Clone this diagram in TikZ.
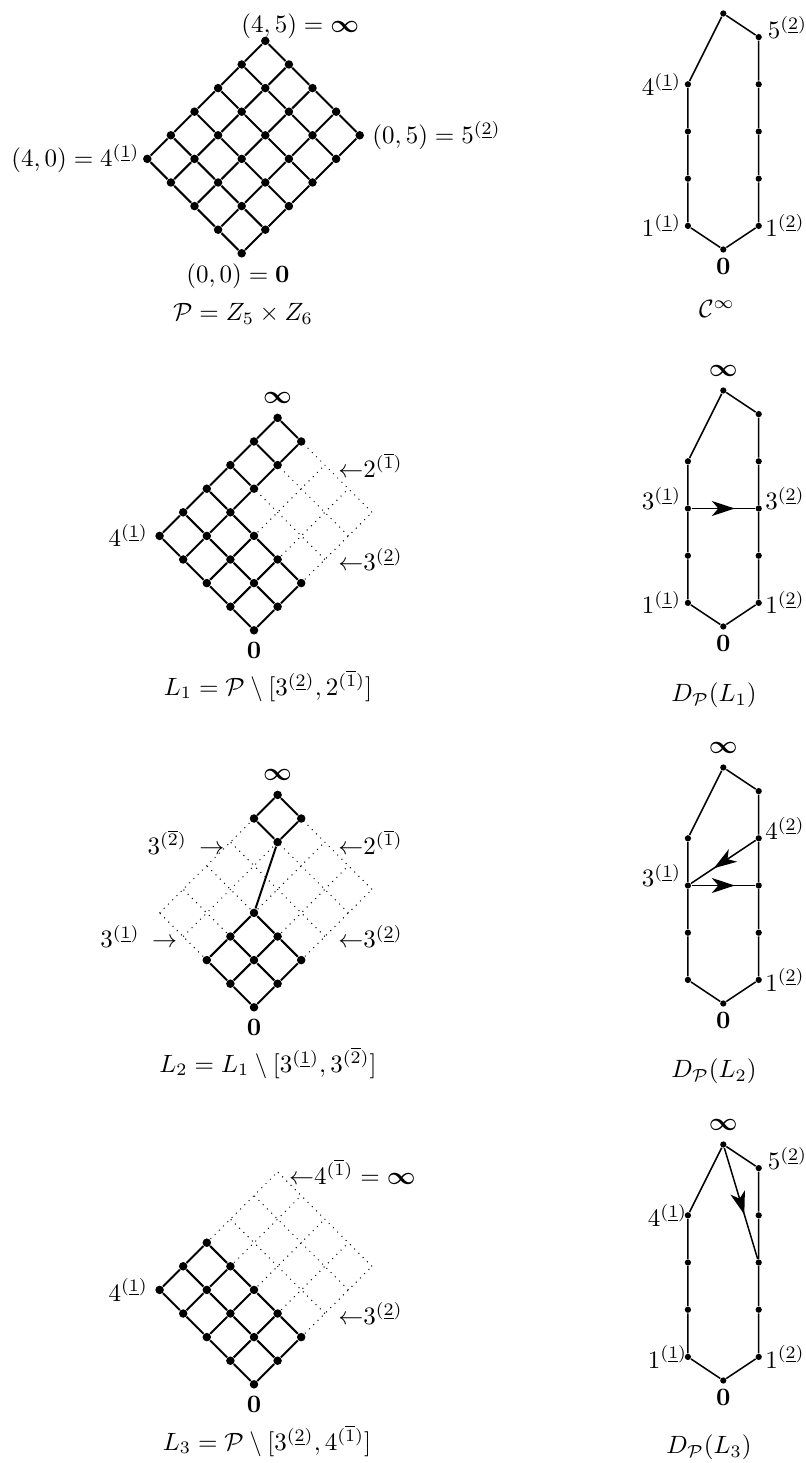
\documentclass[tikz,border=0pt]{standalone}
\usepackage{amsmath, amssymb}
\usepackage{tikz}
\usetikzlibrary{positioning, arrows.meta, decorations.markings}

\tikzset{
  ldot/.style={circle, fill, inner sep=0pt, minimum size=3.4pt},
  cdot/.style={circle, fill, inner sep=0pt, minimum size=2.5pt},
  ledge/.style={line width=0.8pt},
  cedge/.style={line width=0.6pt},
  ghost/.style={dotted, line width=0.4pt},
  lbl/.style={inner sep=1pt},
  subcap/.style={inner sep=1pt},
  midarrow/.style={postaction={decorate},
    decoration={markings, mark=at position .5 with {\arrow[xshift=4.6pt]{Stealth[length=9.2pt, width=6pt, inset=2.6pt]}}}},
  declare function={inL(\pc,\pa,\pb) = (\pc==0) || ((\pc==1) && ((\pb<3) || (\pa>2)))
    || ((\pc==2) && (((\pa<3) && (\pb<3)) || ((\pa>2) && (\pb>3)))) || ((\pc==3) && (\pb<3));}
}

\begin{document}
\begin{tikzpicture}[x=0.4pt, y=-0.4pt]
  \useasboundingbox (0,0) rectangle (805,1463);

  \foreach \k/\nm/\bx in {0/P/241.7, 1/A/254, 2/B/254, 3/C/254} {
    \begin{scope}[shift={(\bx,253.3+377*\k)}, x={(-9.44pt,9.44pt)}, y={(9.44pt,9.44pt)}]
      \foreach \i in {0,...,4} \foreach \j in {0,...,5} \coordinate (\nm g\i\j) at (\i,\j);
      \ifnum\k>0
        \foreach \i in {0,...,4} \draw[ghost] (\nm g\i0) -- (\nm g\i5);
        \foreach \j in {0,...,5} \draw[ghost] (\nm g0\j) -- (\nm g4\j);
      \fi
      \foreach \i in {0,...,4} \foreach \j in {0,...,5} {
        \pgfmathtruncatemacro\here{inL(\k,\i,\j)}
        \ifnum\here=1 \node[ldot] (\nm\i\j) at (\nm g\i\j) {}; \fi
      }
      \foreach \i in {0,...,4} \foreach \j in {0,...,5} {
        \pgfmathtruncatemacro\here{inL(\k,\i,\j)}
        \pgfmathtruncatemacro\up{(\i<4)*inL(\k,\i+1,\j)}
        \pgfmathtruncatemacro\rt{(\j<5)*inL(\k,\i,\j+1)}
        \pgfmathtruncatemacro\ii{\i+1}
        \pgfmathtruncatemacro\jj{\j+1}
        \ifnum\here=1
          \ifnum\up=1 \draw[ledge] (\nm\i\j) -- (\nm\ii\j); \fi
          \ifnum\rt=1 \draw[ledge] (\nm\i\j) -- (\nm\i\jj); \fi
        \fi
      }
    \end{scope}
  }
  \draw[ledge] (B22) -- (B34);

  \foreach \k in {0,...,3} {
    \begin{scope}[shift={(723.3,249.5+377*\k)}, x=9.44pt, y=9.44pt]
      \node[cdot] (c\k b) at (0,0) {};
      \node[cdot] (c\k t) at (0,10) {};
      \foreach \m in {1,...,4} \node[cdot] (c\k l\m) at (-1.5,2*\m-1) {};
      \foreach \m in {1,...,5} \node[cdot] (c\k r\m) at (1.5,2*\m-1) {};
      \draw[cedge] (c\k b) -- (c\k l1) -- (c\k l2) -- (c\k l3) -- (c\k l4) -- (c\k t)
        -- (c\k r5) -- (c\k r4) -- (c\k r3) -- (c\k r2) -- (c\k r1) -- (c\k b);
      \node[lbl, above=2.8pt of c\k t] (c\k inf) {$\boldsymbol{\infty}$};
      \node[lbl, below=1pt of c\k b] (c\k zero) {$\mathbf{0}$};
    \end{scope}
  }
  \draw[cedge, midarrow] (c1l3) -- (c1r3);
  \draw[cedge, midarrow] (c2l3) -- (c2r3);
  \draw[cedge, midarrow] (c2r4) -- (c2l3);
  \draw[cedge, midarrow] (c3t) -- (c3r3);

  \node[lbl, above=-2.2pt of P45, xshift=14pt] (tP) {$(4,5)=\boldsymbol{\infty}$};
  \node[lbl, left=0pt of P40] (lP) {$(4,0)=4^{(\underline{1})}$};
  \node[lbl, right=2pt of P05] (rP) {$(0,5)=5^{(\underline{2})}$};
  \node[lbl, below=1.2pt of P00, xshift=-1.5pt] (bP) {$(0,0)=\mathbf{0}$};
  \node[subcap] (capP) at (243,314) {$\mathcal{P}=Z_5\times Z_6$};

  \node[lbl, above=2.8pt of A45] (tA) {$\boldsymbol{\infty}$};
  \node[lbl, left=1.6pt of A40] (lA) {$4^{(\underline{1})}$};
  \node[lbl, right=4.2pt of Ag25] (rA1) {${\leftarrow}2^{(\overline{1})}$};
  \node[lbl, right=4.2pt of Ag03] (rA2) {${\leftarrow}3^{(\underline{2})}$};
  \node[lbl, below=1.6pt of A00] (bA) {$\mathbf{0}$};
  \node[subcap] (capA) at (268,686) {$L_1=\mathcal{P}\setminus[3^{(\underline{2})},2^{(\overline{1})}]$};

  \node[lbl, above=2.8pt of B45] (tB) {$\boldsymbol{\infty}$};
  \node[lbl, left=1.2pt of Bg43] (lB1) {$3^{(\overline{2})}\enspace{\rightarrow}$};
  \node[lbl, left=1.2pt of Bg30] (lB2) {$3^{(\underline{1})}\enspace{\rightarrow}$};
  \node[lbl, right=4.2pt of Bg25] (rB1) {${\leftarrow}2^{(\overline{1})}$};
  \node[lbl, right=4.2pt of Bg03] (rB2) {${\leftarrow}3^{(\underline{2})}$};
  \node[lbl, below=1.6pt of B00] (bB) {$\mathbf{0}$};
  \node[subcap] (capB) at (268,1063) {$L_2=L_1\setminus[3^{(\underline{1})},3^{(\overline{2})}]$};

  \node[lbl, right=3.4pt of Cg45] (rC1) {${\leftarrow}4^{(\overline{1})}=\boldsymbol{\infty}$};
  \node[lbl, left=1.6pt of C40] (lC) {$4^{(\underline{1})}$};
  \node[lbl, right=4.2pt of Cg03] (rC2) {${\leftarrow}3^{(\underline{2})}$};
  \node[lbl, below=1.6pt of C00] (bC) {$\mathbf{0}$};
  \node[subcap] (capC) at (267,1441) {$L_3=\mathcal{P}\setminus[3^{(\underline{2})},4^{(\overline{1})}]$};

  \node[lbl, right=1pt of c0r5, yshift=4pt] (c0r5t) {$5^{(\underline{2})}$};
  \node[lbl, left=0pt of c0l4] (c0l4t) {$4^{(\underline{1})}$};
  \node[lbl, left=0pt of c0l1] (c0l1t) {$1^{(\underline{1})}$};
  \node[lbl, right=0pt of c0r1] (c0r1t) {$1^{(\underline{2})}$};
  \node[subcap] (capc0) at (717,309) {$\mathcal{C}^{\infty}$};

  \node[lbl, left=0pt of c1l3, yshift=4pt] (c1l3t) {$3^{(\underline{1})}$};
  \node[lbl, right=0pt of c1r3, yshift=4pt] (c1r3t) {$3^{(\underline{2})}$};
  \node[lbl, left=0pt of c1l1] (c1l1t) {$1^{(\underline{1})}$};
  \node[lbl, right=0pt of c1r1] (c1r1t) {$1^{(\underline{2})}$};
  \node[subcap] (capc1) at (714,695) {$D_{\mathcal{P}}(L_1)$};

  \node[lbl, right=0pt of c2r4, yshift=4pt] (c2r4t) {$4^{(\underline{2})}$};
  \node[lbl, left=0pt of c2l3, yshift=4pt] (c2l3t) {$3^{(\underline{1})}$};
  \node[lbl, right=0pt of c2r1] (c2r1t) {$1^{(\underline{2})}$};
  \node[subcap] (capc2) at (714,1071) {$D_{\mathcal{P}}(L_2)$};

  \node[lbl, right=1pt of c3r5, yshift=4pt] (c3r5t) {$5^{(\underline{2})}$};
  \node[lbl, left=-2.4pt of c3l4] (c3l4t) {$4^{(\underline{1})}$};
  \node[lbl, left=-2.4pt of c3l1] (c3l1t) {$1^{(\underline{1})}$};
  \node[lbl, right=0pt of c3r1] (c3r1t) {$1^{(\underline{2})}$};
  \node[subcap] (capc3) at (709,1447) {$D_{\mathcal{P}}(L_3)$};
\end{tikzpicture}
\end{document}
